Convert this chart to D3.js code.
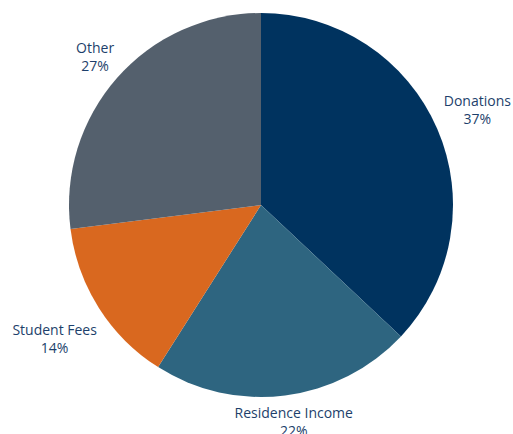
<!DOCTYPE html>
<html>
<head>
<meta charset="utf-8">
<script src="https://cdn.jsdelivr.net/npm/d3@7"></script>
<style>
  body { margin: 0; background: #fff; }
  text { font-family: "Open Sans", sans-serif; font-size: 14px; fill: #1d3f6b; }
</style>
</head>
<body>
<div id="chart"></div>
<script>
// data
let categories = ["Donations", "Residence Income", "Student Fees", "Other"];
let values = [37, 22, 14, 27];
let colors = ["#00335f", "#2e6580", "#d9681f", "#54606d"];

let width = 513, height = 434;
let cx = 261, cy = 205, radius = 192;

let svg = d3.select("#chart").append("svg")
    .attr("width", width)
    .attr("height", height);

let g = svg.append("g").attr("transform", "translate(" + cx + "," + cy + ")");

let pie = d3.pie().sort(null).value(function (d, i) { return values[i]; });
let arcs = pie(categories);
let arc = d3.arc().innerRadius(0).outerRadius(radius);

g.selectAll("path").data(arcs).enter().append("path")
    .attr("d", arc)
    .attr("fill", function (d, i) { return colors[i]; });

// labels outside the pie, pushed out by half their box
let labelR = radius + 10;
// small vertical nudges so labels sit like the original
let nudge = [-8, -2, 15, -3];

let labels = g.selectAll(".lbl").data(arcs).enter().append("text")
    .attr("class", "lbl")
    .attr("text-anchor", "middle");

labels.append("tspan").attr("x", 0).attr("y", 0).text(function (d) { return d.data; });
labels.append("tspan").attr("x", 0).attr("y", 18).text(function (d, i) { return values[i] + "%"; });

labels.each(function (d, i) {
    let a = (d.startAngle + d.endAngle) / 2;
    let bb = this.getBBox();
    let s = Math.sin(a), c = Math.cos(a);
    let x = s * labelR + s * bb.width / 2;
    let y = -c * labelR - c * bb.height / 2 + nudge[i];
    let dy = y - (bb.y + bb.height / 2);
    d3.select(this).attr("transform", "translate(" + x + "," + dy + ")");
});
</script>
</body>
</html>
